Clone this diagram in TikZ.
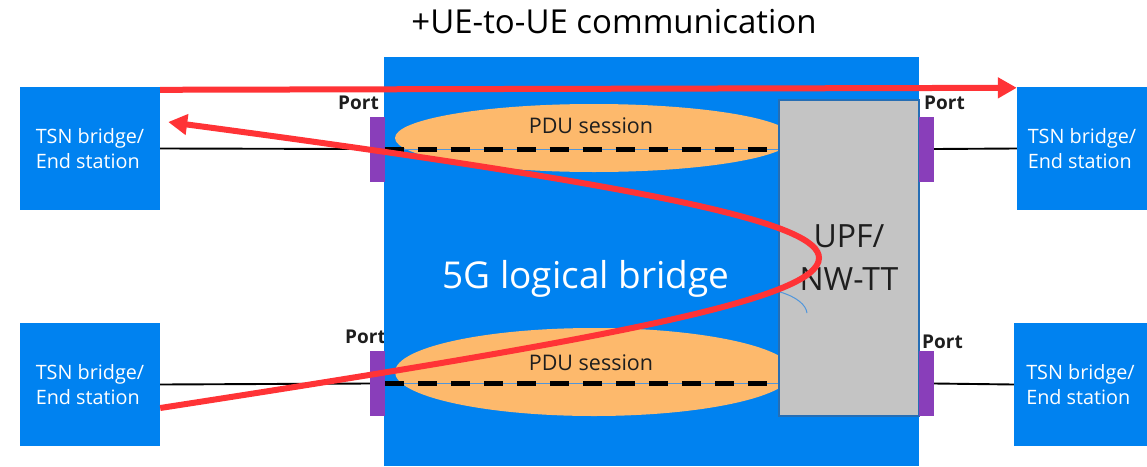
\documentclass[tikz,border=0pt]{standalone}
\usepackage{fontspec}
\setmainfont{Open Sans}
\usetikzlibrary{arrows.meta,calc,shapes.geometric}
\definecolor{bridgeblue}{RGB}{0,130,240}
\definecolor{portpurple}{RGB}{137,62,186}
\definecolor{pduorange}{RGB}{253,185,108}
\definecolor{upfgray}{RGB}{196,196,196}
\definecolor{upfedge}{RGB}{38,110,180}
\definecolor{flowred}{RGB}{255,51,54}
\definecolor{tunnelblue}{RGB}{80,150,220}
\definecolor{darktext}{RGB}{30,30,30}
\tikzset{
  tsnbox/.style={fill=bridgeblue, inner sep=0pt, minimum width=140pt, minimum height=123pt,
    text=white, align=left, font=\fontsize{19.8}{25}\selectfont},
  portbar/.style={fill=portpurple, inner sep=0pt, minimum width=15pt, minimum height=65pt},
  portlabel/.style={font=\bfseries\fontsize{19}{22}\selectfont, text=darktext, inner sep=0pt},
  pdushape/.style={ellipse, fill=pduorange, inner sep=0pt, minimum width=398pt},
  pdulabel/.style={font=\fontsize{21.5}{24}\selectfont, text=darktext, inner sep=0pt},
  link/.style={draw=black, line width=1.9pt},
  tunnel/.style={draw=black, line width=5pt, dash pattern=on 19pt off 14pt},
  tunnelcore/.style={draw=tunnelblue, line width=1pt},
  flow/.style={draw=flowred, line width=6pt, -{Triangle[length=19pt,width=20pt]}}
}
\begin{document}
\begin{tikzpicture}[x=1pt,y=-1pt]
\useasboundingbox (0,0) rectangle (1147,466);

% label partly covered by the bridge body
\node[portlabel, anchor=west] (lp2) at (345,337) {Port};

% 5G logical bridge body
\node[fill=bridgeblue, inner sep=0pt, minimum width=535pt, minimum height=409pt] (bridge) at (651.5,261.5) {};
\node[text=white, font=\fontsize{37}{42}\selectfont, inner sep=0pt] (bridgelabel) at (586,279) {5G logical bridge};

% PDU sessions
\node[pdushape, minimum height=68pt] (pdu1) at (594,138) {};
\node[pdushape, minimum height=88pt] (pdu2) at (594,372) {};
\node[pdulabel] (pdu1label) at (591,126) {PDU session};
\node[pdulabel] (pdu2label) at (591,363) {PDU session};

% UPF / NW-TT
\node[fill=upfgray, draw=upfedge, line width=1.3pt, inner sep=0pt, minimum width=140pt, minimum height=316pt,
  align=center, text=darktext, font=\fontsize{32}{43}\selectfont] (upf) at (849,258) {UPF/\\NW-TT};

% ports
\node[portbar] (pl1) at (377,149) {};
\node[portbar] (pl2) at (377.5,383.5) {};
\node[portbar] (pr1) at (926.5,149) {};
\node[portbar] (pr2) at (926.5,383.5) {};
\node[portlabel, anchor=east] (lp1) at (379,103) {Port};
\node[portlabel, anchor=west] (rp1) at (924,103) {Port};
\node[portlabel, anchor=west] (rp2) at (922,342) {Port};

% user plane tunnels
\draw[tunnelcore] (pl1.east) -- (upf.west |- pl1.east);
\draw[tunnel] (pl1.east) -- (upf.west |- pl1.east);
\draw[tunnelcore] (pl2.east) -- (upf.west |- pl2.east);
\draw[tunnel] (pl2.east) -- (upf.west |- pl2.east);

% TSN bridges / end stations
\node[tsnbox] (ltop) at (90,148.5) {TSN bridge/\\End station};
\node[tsnbox] (lbot) at (90,384.5) {TSN bridge/\\End station};
\node[tsnbox, minimum width=130pt] (rtop) at (1082,148.5) {TSN bridge/\\End station};
\node[tsnbox, minimum width=133pt] (rbot) at (1080.5,384.5) {TSN bridge/\\End station};

% links
\draw[link] (ltop.east) -- (pl1.west);
\draw[link] (lbot.east) -- (pl2.west);
\draw[link] (pr1.east) -- (rtop.west);
\draw[link] (pr2.east) -- (rbot.west);

% small arc inside the UPF
\draw[draw=tunnelblue, line width=1pt] (780,292) .. controls (797,297) and (806,305) .. (807,313);

% traffic flows
\coordinate (fstart) at ($(lbot.east)+(0,23.5)$);
\coordinate (fturn) at (819,258);
\coordinate (fend) at ($(ltop.east)+(8,-26.5)$);
\draw[flow] ($(ltop.north east)+(0,3)$) -- ($(rtop.north west)+(0,1)$);
\draw[flow] (fstart) .. controls (600,340) and (819,300) .. (fturn)
  .. controls (819,225) and (680,190) .. (fend);

% title
\node[font=\fontsize{33}{38}\selectfont, text=black, inner sep=0pt] (title) at (614,22) {+UE-to-UE communication};
\end{tikzpicture}
\end{document}
